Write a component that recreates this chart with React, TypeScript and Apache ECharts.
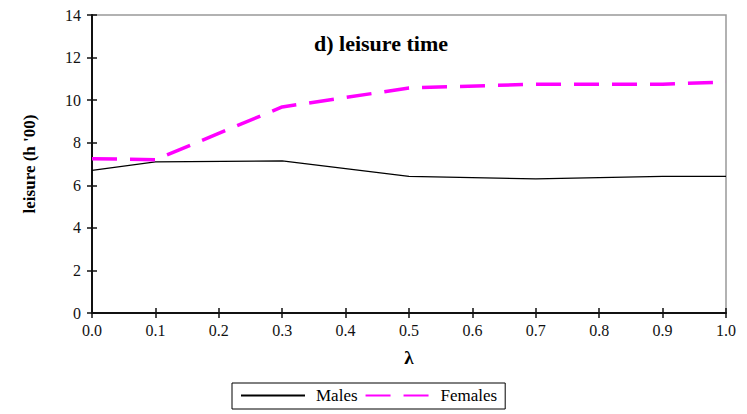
import React, { useEffect, useRef } from "react";
import * as echarts from "echarts";

const lambdas = [0.0, 0.1, 0.3, 0.5, 0.7, 0.9, 1.0];
const males = [6.7, 7.1, 7.15, 6.42, 6.3, 6.42, 6.42];
const females = [7.25, 7.2, 9.68, 10.57, 10.75, 10.75, 10.85];
const titleText = "d) leisure time";
const yName = "leisure (h '00)";
const xName = "λ";

const FONT = "Liberation Serif";

export default function App() {
  const ref = useRef<HTMLDivElement>(null);
  useEffect(() => {
    if (!ref.current) return;
    const chart = echarts.init(ref.current, null, { renderer: "svg" });
    const toPairs = (v: number[]) => lambdas.map((x, i) => [x, v[i]]);
    const yBase = {
      type: "value",
      min: 0,
      max: 14,
      interval: 2,
    };
    const xBase = {
      type: "value",
      min: 0,
      max: 1,
      interval: 0.1,
    };
    chart.setOption({
      animation: false,
      backgroundColor: "#fff",
      textStyle: { fontFamily: FONT },
      title: {
        text: titleText,
        left: 376,
        top: 27,
        textAlign: "center",
        textStyle: { fontFamily: FONT, fontSize: 22, fontWeight: "bold", color: "#000" },
      },
      legend: {
        left: 232,
        top: 383,
        padding: [4, 8, 5, 8],
        borderColor: "#000",
        borderWidth: 1,
        itemWidth: 64,
        itemHeight: 14,
        itemGap: 7,
        itemStyle: { opacity: 0 },
        textStyle: { fontFamily: FONT, fontSize: 17, color: "#000", padding: [0, 6, 0, 6] },
        data: ["Males", "Females"],
      },
      grid: { left: 92, right: 21, top: 15, bottom: 101, show: true, borderColor: "#999", borderWidth: 1.5 },
      xAxis: [
        {
          ...xBase,
          name: xName,
          nameLocation: "middle",
          nameGap: 35,
          nameTextStyle: { fontFamily: FONT, fontSize: 19, fontWeight: "bold", color: "#000" },
          axisLine: { show: true, onZero: false, lineStyle: { color: "#111", width: 2 } },
          axisTick: { show: true, inside: false, length: 5, lineStyle: { color: "#111", width: 1.5 } },
          axisLabel: {
            fontFamily: FONT,
            fontSize: 16,
            color: "#111",
            margin: 9,
            formatter: (v: number) => v.toFixed(1),
          },
          splitLine: { show: false },
        },
        {
          ...xBase,
          position: "bottom",
          axisLine: { show: false },
          axisTick: { show: true, inside: true, length: 5, lineStyle: { color: "#111", width: 1.5 } },
          axisLabel: { show: false },
          splitLine: { show: false },
        },
      ],
      yAxis: [
        {
          ...yBase,
          name: yName,
          nameLocation: "middle",
          nameGap: 54,
          nameRotate: 90,
          nameTextStyle: { fontFamily: FONT, fontSize: 17, fontWeight: "bold", color: "#000" },
          axisLine: { show: true, onZero: false, lineStyle: { color: "#111", width: 2 } },
          axisTick: { show: true, inside: false, length: 5, lineStyle: { color: "#111", width: 1.5 } },
          axisLabel: { fontFamily: FONT, fontSize: 16, color: "#111", margin: 11 },
          splitLine: { show: false },
        },
        {
          ...yBase,
          position: "left",
          axisLine: { show: false },
          axisTick: { show: true, inside: true, length: 5, lineStyle: { color: "#111", width: 1.5 } },
          axisLabel: { show: false },
          splitLine: { show: false },
        },
      ],
      series: [
        {
          name: "Males",
          type: "line",
          data: toPairs(males),
          symbol: "none",
          lineStyle: { color: "#000", width: 1.3 },
          itemStyle: { color: "#000" },
        },
        {
          name: "Females",
          type: "line",
          data: toPairs(females),
          symbol: "none",
          lineStyle: { color: "#ff00ff", width: 3.5, type: [25, 13] },
          itemStyle: { color: "#ff00ff" },
        },
      ],
    });
    return () => chart.dispose();
  }, []);
  return <div ref={ref} style={{ width: 747, height: 414, position: "absolute", left: 0, top: 0 }} />;
}
